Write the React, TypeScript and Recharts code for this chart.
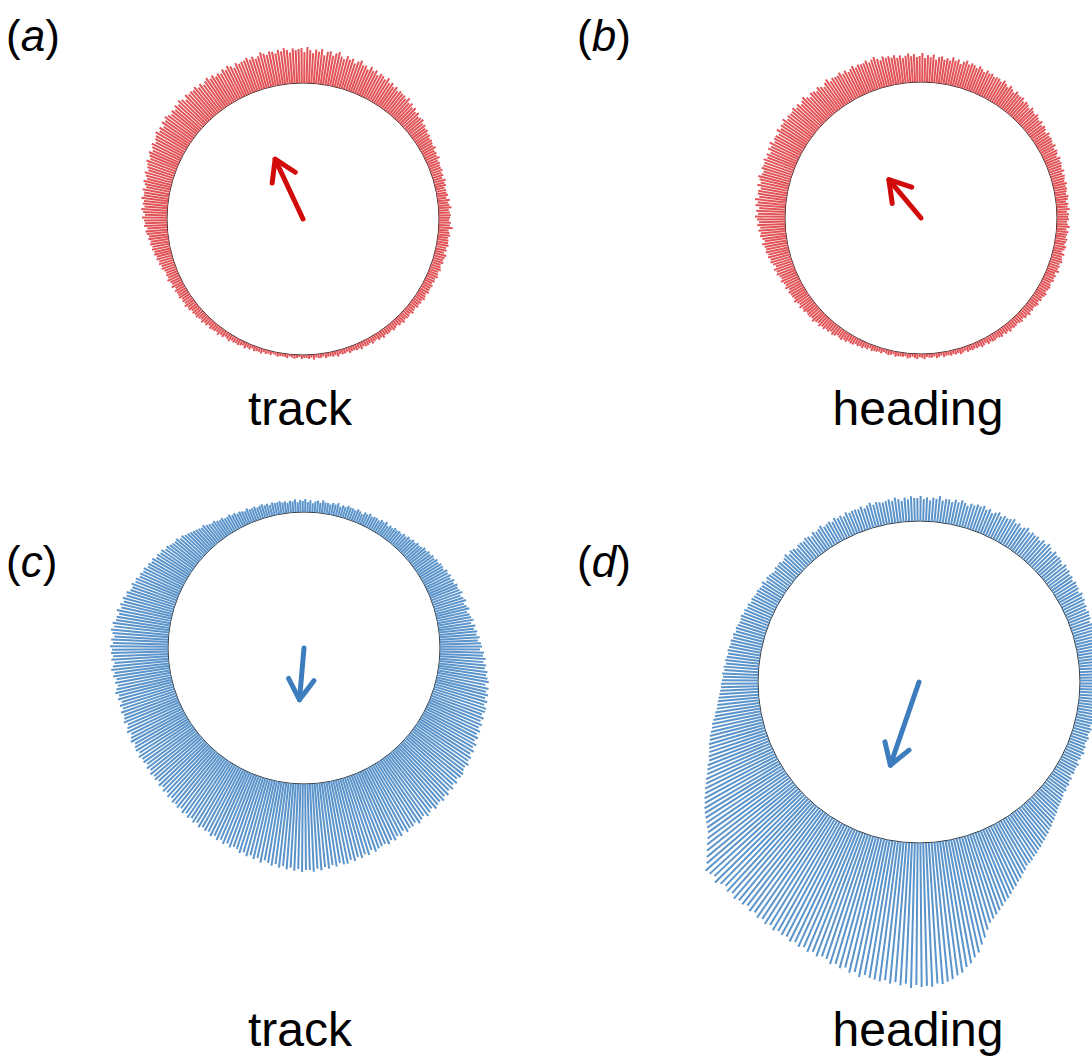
import { RadialBarChart, RadialBar, PolarAngleAxis, PolarRadiusAxis, PolarGrid, Customized } from "recharts"

// compass bins, 1 degree each, 0 = up, clockwise
const degrees = Array.from({ length: 360 }, (_, i) => i)

// bar lengths per bin (same units as the radius axis, 0..150)
const trackRed = [
  35, 31, 36, 33, 30, 34, 32, 35, 29, 33,
  34, 30, 33, 35, 31, 29, 33, 30, 32, 28,
  31, 33, 29, 30, 27, 31, 28, 30, 26, 29,
  28, 26, 29, 25, 27, 24, 26, 23, 25, 24,
  24, 22, 25, 21, 23, 20, 22, 19, 21, 18,
  19, 20, 17, 18, 16, 17, 15, 16, 14, 15,
  14, 13, 15, 12, 13, 12, 14, 11, 12, 11,
  11, 12, 10, 11, 9, 12, 10, 11, 9, 10,
  10, 11, 9, 12, 10, 11, 13, 10, 11, 12,
  11, 10, 12, 11, 14, 10, 11, 12, 10, 11,
  11, 12, 10, 11, 9, 12, 11, 10, 11, 9,
  10, 11, 9, 10, 11, 9, 10, 8, 10, 9,
  9, 10, 8, 9, 10, 8, 9, 8, 9, 7,
  8, 9, 7, 8, 8, 7, 9, 7, 8, 6,
  7, 8, 6, 7, 7, 6, 8, 6, 7, 5,
  6, 7, 5, 6, 6, 5, 7, 5, 6, 5,
  5, 6, 4, 5, 5, 4, 6, 4, 5, 4,
  4, 5, 3, 4, 4, 3, 5, 3, 4, 3,
  3, 4, 2, 3, 4, 3, 2, 4, 3, 3,
  3, 4, 3, 2, 4, 3, 4, 3, 5, 4,
  4, 5, 3, 5, 4, 6, 4, 5, 6, 5,
  6, 5, 7, 6, 5, 7, 6, 8, 6, 7,
  7, 8, 6, 8, 7, 9, 7, 8, 9, 8,
  9, 8, 10, 9, 11, 9, 10, 9, 11, 10,
  10, 11, 9, 12, 10, 11, 13, 11, 12, 11,
  12, 14, 13, 15, 14, 16, 15, 17, 16, 18,
  17, 19, 18, 20, 19, 21, 22, 20, 23, 22,
  23, 25, 22, 24, 26, 23, 25, 24, 27, 25,
  25, 27, 24, 26, 28, 25, 27, 29, 26, 28,
  29, 31, 28, 30, 32, 29, 31, 33, 30, 32,
  33, 35, 32, 34, 31, 35, 33, 36, 34, 32,
  34, 32, 35, 33, 36, 34, 31, 35, 33, 34,
  33, 35, 32, 34, 31, 33, 35, 32, 34, 31,
  33, 31, 34, 32, 35, 33, 30, 34, 32, 33,
  33, 35, 32, 34, 31, 33, 36, 34, 32, 35,
  34, 32, 35, 33, 36, 34, 31, 35, 33, 34,
]

const headingRed = [
  26, 29, 24, 27, 25, 28, 23, 26, 27, 24,
  26, 24, 28, 25, 27, 23, 26, 28, 25, 27,
  26, 24, 27, 25, 23, 26, 24, 25, 23, 24,
  24, 22, 25, 23, 21, 24, 22, 20, 23, 21,
  21, 22, 19, 21, 20, 18, 21, 19, 18, 20,
  18, 17, 19, 16, 18, 17, 15, 18, 16, 17,
  16, 15, 17, 14, 16, 15, 13, 16, 14, 15,
  14, 13, 15, 12, 14, 13, 12, 14, 12, 13,
  12, 11, 13, 12, 10, 12, 11, 13, 10, 12,
  11, 12, 10, 11, 13, 10, 12, 11, 10, 12,
  11, 10, 12, 11, 9, 12, 10, 11, 12, 10,
  11, 10, 12, 9, 11, 10, 11, 9, 10, 11,
  10, 9, 11, 10, 9, 10, 8, 10, 9, 8,
  9, 8, 10, 8, 9, 7, 9, 8, 7, 8,
  8, 7, 9, 7, 8, 6, 8, 7, 6, 7,
  7, 6, 7, 5, 6, 7, 5, 6, 5, 6,
  5, 6, 4, 5, 6, 4, 5, 4, 5, 4,
  4, 5, 3, 4, 5, 3, 4, 4, 3, 5,
  4, 3, 5, 4, 3, 4, 5, 3, 4, 4,
  4, 5, 3, 4, 5, 4, 3, 5, 4, 5,
  5, 6, 4, 6, 5, 7, 6, 7, 6, 8,
  8, 7, 9, 8, 10, 9, 8, 10, 11, 9,
  11, 10, 12, 11, 13, 11, 12, 14, 12, 13,
  13, 12, 14, 13, 15, 13, 14, 16, 14, 15,
  15, 16, 14, 17, 15, 16, 18, 16, 17, 19,
  18, 20, 17, 19, 21, 20, 22, 21, 23, 22,
  23, 25, 22, 24, 26, 25, 27, 25, 28, 26,
  28, 30, 27, 29, 26, 30, 28, 31, 27, 29,
  29, 27, 31, 28, 30, 32, 29, 28, 31, 30,
  30, 32, 29, 31, 28, 32, 30, 33, 29, 31,
  31, 29, 33, 30, 32, 31, 34, 30, 32, 31,
  31, 33, 30, 32, 29, 31, 33, 30, 28, 31,
  30, 28, 31, 29, 27, 30, 32, 28, 30, 29,
  29, 31, 28, 30, 27, 29, 31, 28, 30, 29,
  29, 31, 28, 30, 32, 29, 27, 30, 28, 29,
  27, 29, 26, 28, 25, 27, 29, 26, 28, 25,
]

const trackBlue = [
  11, 13, 10, 12, 9, 11, 12, 10, 13, 11,
  11, 10, 12, 11, 13, 10, 12, 11, 13, 12,
  12, 11, 13, 12, 10, 13, 12, 14, 12, 13,
  13, 12, 14, 13, 15, 12, 14, 13, 15, 14,
  15, 14, 16, 15, 17, 16, 18, 17, 19, 18,
  19, 21, 20, 22, 21, 23, 22, 24, 23, 25,
  25, 24, 27, 26, 28, 26, 29, 27, 30, 29,
  30, 32, 29, 31, 33, 30, 32, 34, 31, 33,
  34, 36, 33, 37, 35, 38, 37, 40, 38, 41,
  42, 40, 44, 43, 46, 44, 47, 46, 49, 48,
  50, 52, 49, 53, 51, 54, 52, 55, 53, 56,
  56, 54, 57, 55, 58, 56, 59, 57, 60, 58,
  62, 60, 63, 61, 64, 63, 66, 64, 65, 67,
  67, 65, 68, 66, 69, 67, 70, 68, 71, 69,
  70, 72, 69, 71, 73, 70, 72, 74, 71, 73,
  73, 75, 72, 76, 74, 77, 75, 78, 76, 77,
  78, 80, 77, 81, 79, 82, 80, 83, 81, 84,
  84, 82, 85, 83, 86, 84, 87, 85, 88, 86,
  86, 88, 85, 87, 84, 86, 83, 85, 82, 84,
  82, 80, 83, 79, 81, 78, 80, 77, 79, 76,
  75, 77, 74, 76, 73, 75, 72, 74, 71, 72,
  70, 72, 69, 71, 68, 70, 67, 69, 66, 68,
  66, 67, 64, 66, 63, 65, 62, 64, 61, 63,
  61, 63, 60, 62, 59, 61, 60, 62, 59, 61,
  60, 58, 61, 59, 57, 60, 58, 56, 59, 57,
  56, 58, 55, 57, 54, 57, 55, 58, 56, 54,
  56, 54, 57, 55, 58, 56, 54, 57, 55, 57,
  56, 58, 55, 57, 54, 56, 58, 55, 57, 54,
  54, 52, 55, 51, 53, 50, 52, 49, 50, 47,
  46, 48, 45, 46, 43, 44, 42, 43, 40, 41,
  39, 40, 37, 38, 36, 37, 34, 35, 33, 32,
  31, 32, 29, 30, 28, 27, 26, 25, 24, 23,
  22, 23, 21, 20, 19, 20, 18, 17, 18, 16,
  16, 17, 15, 16, 14, 15, 14, 13, 15, 13,
  13, 14, 12, 13, 14, 12, 13, 11, 13, 12,
  12, 13, 11, 12, 10, 12, 11, 13, 10, 12,
]

const headingBlue = [
  23, 25, 22, 24, 21, 24, 23, 26, 22, 24,
  24, 22, 25, 23, 26, 24, 22, 25, 24, 26,
  25, 27, 24, 26, 23, 25, 27, 24, 26, 25,
  26, 28, 25, 27, 24, 26, 28, 25, 27, 26,
  27, 25, 28, 26, 29, 27, 25, 28, 26, 27,
  26, 24, 27, 25, 26, 24, 25, 23, 25, 24,
  24, 22, 25, 23, 24, 22, 23, 21, 23, 22,
  22, 20, 23, 21, 22, 20, 21, 19, 21, 20,
  20, 19, 21, 18, 20, 19, 18, 20, 17, 19,
  18, 17, 19, 18, 16, 18, 17, 19, 16, 18,
  17, 18, 16, 17, 19, 16, 18, 17, 16, 18,
  17, 16, 18, 17, 19, 17, 18, 16, 19, 18,
  18, 19, 17, 20, 19, 21, 20, 22, 21, 23,
  24, 25, 26, 27, 29, 30, 32, 33, 35, 36,
  38, 39, 41, 42, 44, 45, 47, 48, 50, 51,
  52, 55, 57, 60, 62, 65, 67, 70, 73, 75,
  78, 81, 84, 87, 90, 96, 103, 109, 116, 120,
  125, 128, 133, 135, 138, 140, 142, 141, 144, 143,
  144, 142, 145, 141, 143, 140, 142, 139, 141, 140,
  139, 137, 140, 136, 138, 134, 136, 133, 135, 131,
  130, 132, 129, 131, 128, 130, 127, 129, 126, 127,
  125, 127, 124, 126, 123, 125, 122, 124, 121, 123,
  122, 124, 121, 123, 120, 122, 125, 121, 123, 124,
  118, 114, 110, 106, 102, 98, 96, 94, 92, 90,
  88, 85, 83, 80, 78, 75, 73, 70, 68, 66,
  63, 62, 60, 59, 58, 56, 55, 53, 51, 50,
  48, 46, 45, 43, 42, 41, 40, 39, 38, 37,
  37, 36, 35, 36, 34, 35, 33, 34, 33, 32,
  33, 32, 31, 32, 30, 31, 29, 30, 29, 28,
  28, 29, 27, 28, 26, 27, 25, 26, 25, 24,
  25, 24, 23, 25, 22, 24, 23, 22, 21, 23,
  22, 23, 21, 22, 24, 21, 23, 22, 20, 22,
  22, 21, 23, 22, 20, 23, 21, 22, 24, 21,
  22, 23, 21, 24, 22, 23, 21, 24, 22, 23,
  23, 22, 24, 21, 23, 25, 22, 24, 23, 22,
  23, 24, 22, 25, 23, 21, 24, 22, 25, 23,
]

// mean vector per panel (compass degrees, length)
const panelLetters = ["a", "b", "c", "d"]
const panelTitles = ["track", "heading", "track", "heading"]
const meanDirection = [335, 320, 185, 199]
const meanLength = [66, 50, 52, 88]
const series = [trackRed, headingRed, trackBlue, headingBlue]

const FONT = "'Liberation Sans', Arial, Helvetica, sans-serif"
const RED = "#e25357"
const RED_ARROW = "#d10a0a"
const BLUE = "#5b94ca"
const BLUE_ARROW = "#3d7dbd"
const RADIUS_MAX = 150

const panels = [
  { left: 0, top: 0, w: 546, h: 460, cx: 303, cy: 219, r0: 136, color: RED, arrow: RED_ARROW },
  { left: 546, top: 0, w: 546, h: 460, cx: 375, cy: 218, r0: 136, color: RED, arrow: RED_ARROW },
  { left: 0, top: 460, w: 546, h: 603, cx: 304, cy: 188, r0: 136, color: BLUE, arrow: BLUE_ARROW },
  { left: 546, top: 460, w: 546, h: 603, cx: 373, cy: 222, r0: 161, color: BLUE, arrow: BLUE_ARROW },
]

const RAD = Math.PI / 180

function Spoke(props: any) {
  const { cx, cy, innerRadius, outerRadius, startAngle, endAngle, color } = props
  const a = -((startAngle + endAngle) / 2) * RAD
  return (
    <line
      x1={cx + innerRadius * Math.cos(a)}
      y1={cy + innerRadius * Math.sin(a)}
      x2={cx + outerRadius * Math.cos(a)}
      y2={cy + outerRadius * Math.sin(a)}
      stroke={color}
      strokeWidth={2}
    />
  )
}

function MeanArrow({ cx, cy, angle, length, color }: { cx: number; cy: number; angle: number; length: number; color: string }) {
  const t = angle * RAD
  const tx = cx + length * Math.sin(t)
  const ty = cy - length * Math.cos(t)
  const end = (d: number) => {
    const w = (angle + 180 + d) * RAD
    return `${tx + 24 * Math.sin(w)},${ty - 24 * Math.cos(w)}`
  }
  return (
    <g stroke={color} strokeWidth={5} strokeLinecap="round" strokeLinejoin="round" fill="none">
      <line x1={cx} y1={cy} x2={tx} y2={ty} />
      <path d={`M${end(32)} L${tx},${ty} L${end(-32)}`} />
    </g>
  )
}

function Rose({ idx }: { idx: number }) {
  const p = panels[idx]
  const data = degrees.map((d, i) => ({ deg: d, len: series[idx][i] }))
  return (
    <div style={{ position: "absolute", left: p.left, top: p.top }}>
      <RadialBarChart
        width={p.w}
        height={p.h}
        data={data}
        layout="centric"
        cx={p.cx}
        cy={p.cy}
        innerRadius={p.r0}
        outerRadius={p.r0 + RADIUS_MAX}
        startAngle={90}
        endAngle={-270}
        barCategoryGap={0}
        margin={{ top: 0, right: 0, bottom: 0, left: 0 }}
      >
        <PolarAngleAxis type="category" dataKey="deg" tick={false} axisLine={false} tickLine={false} />
        <PolarRadiusAxis type="number" domain={[0, RADIUS_MAX]} tick={false} axisLine={false} tickLine={false} />
        <RadialBar
          dataKey="len"
          isAnimationActive={false}
          fill={p.color}
          shape={(s: any) => <Spoke {...s} color={p.color} />}
        />
        <PolarGrid gridType="circle" polarRadius={[p.r0]} polarAngles={[]} radialLines={false} stroke="#2b2b2b" strokeWidth={1} />
        <Customized
          component={<MeanArrow cx={p.cx} cy={p.cy} angle={meanDirection[idx]} length={meanLength[idx]} color={p.arrow} />}
        />
      </RadialBarChart>
    </div>
  )
}

const letterPos = [
  { x: 6, y: 51 },
  { x: 577, y: 51 },
  { x: 6, y: 577 },
  { x: 577, y: 577 },
]
const titlePos = [
  { x: 300, y: 425 },
  { x: 918, y: 425 },
  { x: 300, y: 1046 },
  { x: 918, y: 1046 },
]

export default function App() {
  return (
    <div style={{ position: "absolute", left: 0, top: 0, width: 1092, height: 1063, background: "#fff", overflow: "hidden" }}>
      <svg width={1092} height={1063} style={{ position: "absolute", left: 0, top: 0 }}>
        {panelLetters.map((l, i) => (
          <text key={l} x={letterPos[i].x} y={letterPos[i].y} fontFamily={FONT} fontSize={44} fill="#000">
            (<tspan fontStyle="italic">{l}</tspan>)
          </text>
        ))}
        {panelTitles.map((t, i) => (
          <text key={i} x={titlePos[i].x} y={titlePos[i].y} fontFamily={FONT} fontSize={48} fill="#000" textAnchor="middle">
            {t}
          </text>
        ))}
      </svg>
      {panels.map((_, i) => (
        <Rose key={i} idx={i} />
      ))}
    </div>
  )
}
